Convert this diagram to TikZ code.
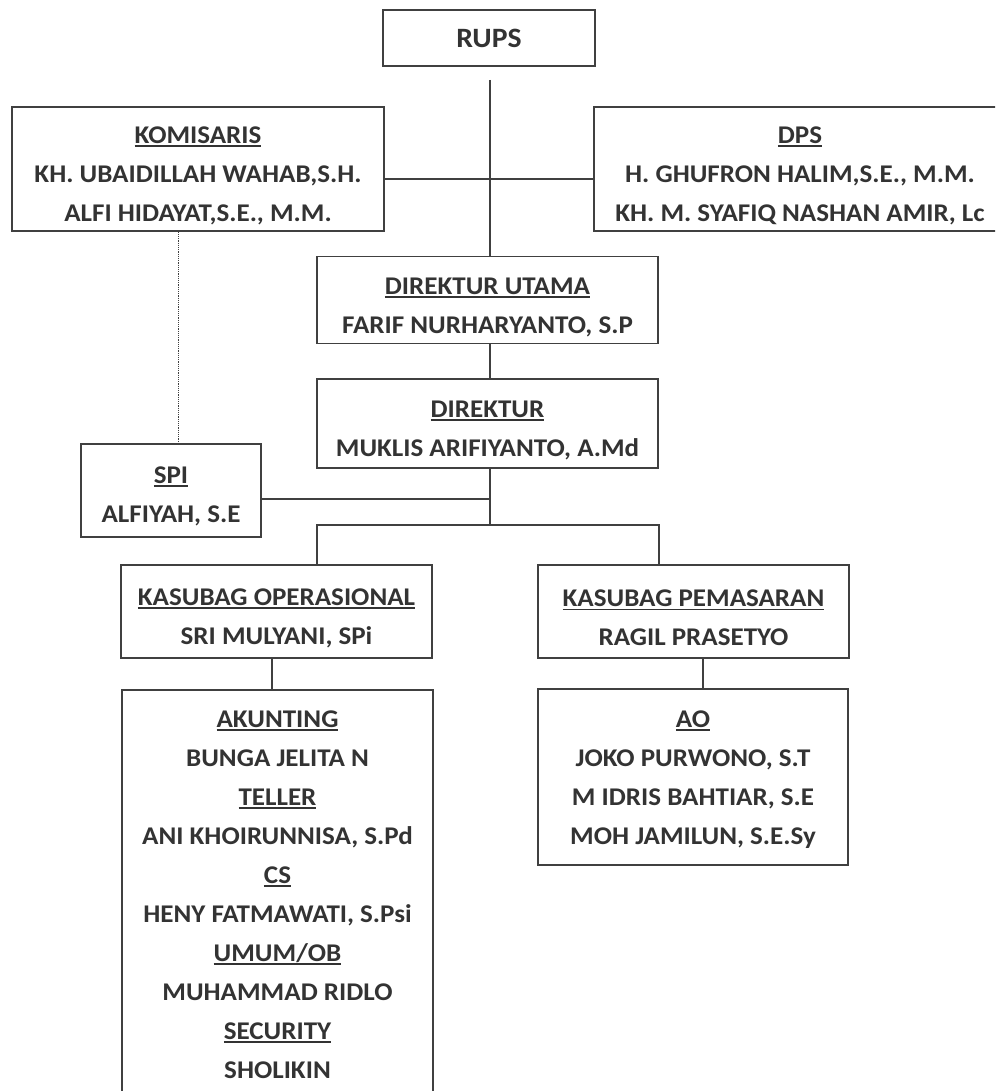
\documentclass[tikz,border=0pt]{standalone}
\usepackage{fontspec}
\setmainfont[FakeStretch=1.06]{Carlito}
\usetikzlibrary{positioning}

% underlined heading, optional strut pushes the text block down a little
\newcommand{\hdr}[2][0pt]{\rule{0pt}{#1}\setbox0\hbox{#2}\rlap{\rule[-3.5pt]{\wd0}{1.8pt}}\box0}

\begin{document}
\begin{tikzpicture}[x=1pt,y=-1pt]
	\tikzstyle{orgbox} = [draw=black!75, line width=1.3pt, rectangle, align=center, inner sep=0pt,
		text=black!80, font=\bfseries\fontsize{25.5}{39}\selectfont]
	\tikzstyle{link} = [draw=black!75, line width=1.2pt]
	\useasboundingbox (0,0) rectangle (995,1091);
	\clip (0,0) rectangle (995,1091);
	\fill[white] (0,0) rectangle (995,1091);

	% top level
	\node (rups) [orgbox, minimum width=212, minimum height=56, font=\bfseries\fontsize{28}{34}\selectfont] at (489,38) {RUPS};
	\node (kom) [orgbox, minimum width=372, minimum height=124] at (198,169)
		{\hdr[30pt]{KOMISARIS}\\KH. UBAIDILLAH WAHAB,S.H.\\ALFI HIDAYAT,S.E., M.M.};
	\node (dps) [orgbox, minimum width=412, minimum height=124] at (800,169)
		{\hdr[30pt]{DPS}\\H. GHUFRON HALIM,S.E., M.M.\\KH. M. SYAFIQ NASHAN AMIR, Lc};

	% direksi
	\node (dirut) [orgbox, minimum width=341, minimum height=87] at (487.5,300)
		{\hdr[31pt]{DIREKTUR UTAMA}\\FARIF NURHARYANTO, S.P};
	\node (dir) [orgbox, minimum width=341, minimum height=89] at (487.5,423.5)
		{\hdr[30pt]{DIREKTUR}\\MUKLIS ARIFIYANTO, A.Md};
	\node (spi) [orgbox, minimum width=180, minimum height=93] at (171,490.5)
		{\hdr[28pt]{SPI}\\ALFIYAH, S.E};

	% kasubag
	\node (kop) [orgbox, minimum width=311, minimum height=93] at (276.5,611.5)
		{\hdr[30pt]{KASUBAG OPERASIONAL}\\SRI MULYANI, SPi};
	\node (kpm) [orgbox, minimum width=311, minimum height=93] at (693.5,611.5)
		{\hdr[30pt]{KASUBAG PEMASARAN}\\RAGIL PRASETYO};

	% staff
	\node (akt) [orgbox, minimum width=311, minimum height=410] at (277.5,895)
		{\hdr{AKUNTING}\\BUNGA JELITA N\\\hdr{TELLER}\\ANI KHOIRUNNISA, S.Pd\\\hdr{CS}\\HENY FATMAWATI, S.Psi\\\hdr{UMUM/OB}\\MUHAMMAD RIDLO\\\hdr{SECURITY}\\SHOLIKIN};
	\node (ao) [orgbox, minimum width=310, minimum height=176] at (693,777)
		{\hdr[22pt]{AO}\\JOKO PURWONO, S.T\\M IDRIS BAHTIAR, S.E\\MOH JAMILUN, S.E.Sy};

	\coordinate (rupsend) at (490,80);
	\coordinate (split) at (490,525);

	\draw[link] (rupsend) -- (rupsend |- dirut.north);
	\draw[link] ([yshift=-10]kom.east) -- ([yshift=-10]dps.west);
	\draw[link] (dirut.south -| rupsend) -- (dir.north -| rupsend);
	\draw[link] (dir.south -| rupsend) -- (split);
	\draw[link, densely dotted, line width=0.8pt] ([xshift=-20]kom.south) -- ([xshift=-20]kom.south |- spi.north);
	\draw[link] ([yshift=-8.5]spi.east) -- ([yshift=-8.5]spi.east -| split);
	\draw[link] ([xshift=40.5]kop.north) |- (split) -| ([xshift=-34.5]kpm.north);
	\draw[link] ([xshift=-4.5]kop.south) -- ([xshift=-4.5]kop.south |- akt.north);
	\draw[link] ([xshift=9.5]kpm.south) -- ([xshift=9.5]kpm.south |- ao.north);
\end{tikzpicture}
\end{document}
